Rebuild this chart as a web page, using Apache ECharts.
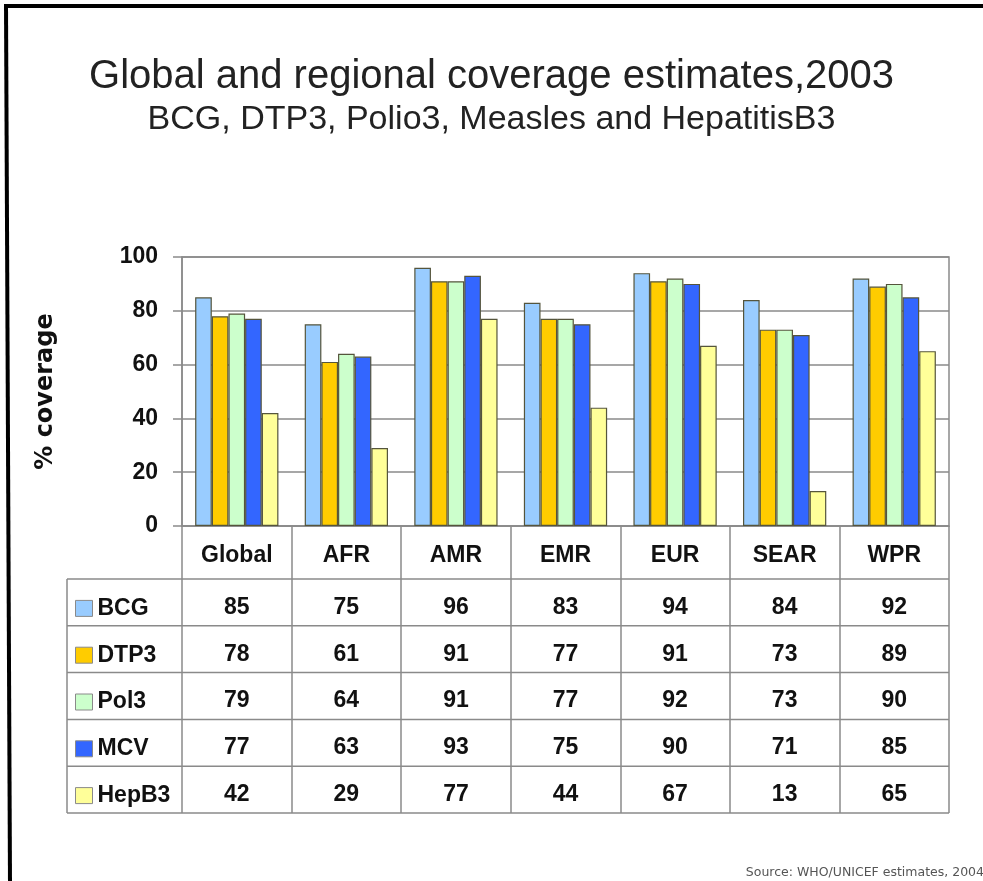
<!DOCTYPE html>
<html>
<head>
<meta charset="utf-8">
<script src="https://cdn.jsdelivr.net/npm/echarts@6/dist/echarts.min.js"></script>
<style>
  html, body { margin: 0; padding: 0; background: #ffffff; }
  #chart { width: 983px; height: 881px; }
</style>
</head>
<body>
<div id="chart"></div>
<script>
// Immunization coverage by WHO region, 2003 (%)
const regions = ['Global', 'AFR', 'AMR', 'EMR', 'EUR', 'SEAR', 'WPR'];
const vaccines = ['BCG', 'DTP3', 'Pol3', 'MCV', 'HepB3'];
const bcg   = [85, 75, 96, 83, 94, 84, 92];
const dtp3  = [78, 61, 91, 77, 91, 73, 89];
const pol3  = [79, 64, 91, 77, 92, 73, 90];
const mcv   = [77, 63, 93, 75, 90, 71, 85];
const hepb3 = [42, 29, 77, 44, 67, 13, 65];
const yMin = 0, yMax = 100, yStep = 20;

const seriesValues = [bcg, dtp3, pol3, mcv, hepb3];
const colors = ['#99ccff', '#ffcc00', '#ccffcc', '#3366ff', '#ffff99'];

const FONT = 'Liberation Sans, Arial, sans-serif';
const LINE = '#8a8a8a';

// layout of the plot and the data table under it
const gridTop = 257, gridBottomY = 526, gridLeft = 182, gridRightX = 949;
const W = 983, H = 881;
const headerH = 53;      // category header row
const rowH = 46.8;       // one row per vaccine
const rowTextShift = 5;  // cell text sits a little below the row middle
const tableLeft = 67;
const tableBottom = gridBottomY + headerH + rowH * vaccines.length;
const legendItemH = 23;  // height of one legend entry (text box)

const chart = echarts.init(document.getElementById('chart'), null, { renderer: 'canvas' });

const option = {
  backgroundColor: '#ffffff',
  animation: false,
  title: {
    text: 'Global and regional coverage estimates,2003',
    subtext: 'BCG, DTP3, Polio3, Measles and HepatitisB3',
    left: 'center',
    top: 57,
    padding: 0,
    itemGap: 6,
    textStyle: { fontFamily: FONT, fontSize: 40, lineHeight: 40, fontWeight: 'normal', color: '#222' },
    subtextStyle: { fontFamily: FONT, fontSize: 34, lineHeight: 34, color: '#222' }
  },
  legend: {
    data: vaccines,
    orient: 'vertical',
    left: 75,
    top: gridBottomY + headerH + rowH / 2 - legendItemH / 2 + 6,
    itemWidth: 17,
    itemHeight: 16,
    itemGap: rowH - legendItemH,
    icon: 'rect',
    selectedMode: false,
    padding: 0,
    itemStyle: { borderColor: '#8a8a8a', borderWidth: 1 },
    textStyle: { fontFamily: FONT, fontSize: 23, lineHeight: legendItemH, height: legendItemH, fontWeight: 'bold', color: '#111' }
  },
  grid: {
    left: gridLeft,
    right: W - gridRightX,
    top: gridTop,
    bottom: H - gridBottomY,
    show: true,
    borderColor: LINE,
    borderWidth: 1.5,
    backgroundColor: 'transparent'
  },
  xAxis: {
    type: 'category',
    data: regions,
    axisLine: { show: true, lineStyle: { color: LINE, width: 1.5 } },
    axisTick: { show: true, alignWithLabel: false, length: headerH + rowH * vaccines.length, lineStyle: { color: LINE, width: 1.5 } },
    axisLabel: { fontFamily: FONT, fontSize: 23, fontWeight: 'bold', color: '#111', margin: 30, verticalAlign: 'middle' },
    splitLine: { show: false }
  },
  yAxis: {
    type: 'value',
    min: yMin,
    max: yMax,
    interval: yStep,
    name: '% coverage',
    nameLocation: 'middle',
    nameGap: 124,
    nameRotate: 90,
    nameTextStyle: { fontFamily: 'DejaVu Sans, sans-serif', fontSize: 24, fontWeight: 'bold', color: '#111' },
    axisLine: { show: true, lineStyle: { color: LINE, width: 1.5 } },
    axisTick: { show: true, length: 9, lineStyle: { color: LINE, width: 1.5 } },
    axisLabel: { fontFamily: FONT, fontSize: 23, fontWeight: 'bold', color: '#111', margin: 24 },
    splitLine: { show: true, lineStyle: { color: LINE, width: 1.5 } }
  },
  series: vaccines.map((name, i) => ({
    name: name,
    type: 'bar',
    data: seriesValues[i],
    barGap: '0%',
    barCategoryGap: '24%',
    itemStyle: { color: colors[i], borderColor: '#55553c', borderWidth: 1.2 }
  }))
};

chart.setOption(option);

// Frame and data table drawn on top of the chart
function buildGraphics() {
  const els = [];
  // black frame along the top and left edge
  els.push({ type: 'line', shape: { x1: 4, y1: 6, x2: W, y2: 6 }, style: { stroke: '#000', lineWidth: 4 } });
  els.push({ type: 'line', shape: { x1: 6, y1: 4, x2: 10, y2: H }, style: { stroke: '#000', lineWidth: 4 } });

  // table horizontal rules
  for (let r = 0; r <= vaccines.length; r++) {
    const y = gridBottomY + headerH + rowH * r;
    els.push({ type: 'line', shape: { x1: tableLeft, y1: y, x2: gridRightX, y2: y }, style: { stroke: LINE, lineWidth: 1.5 } });
  }
  // table left edge
  els.push({ type: 'line', shape: { x1: tableLeft, y1: gridBottomY + headerH, x2: tableLeft, y2: tableBottom }, style: { stroke: LINE, lineWidth: 1.5 } });

  // cell values
  vaccines.forEach((v, r) => {
    const y = gridBottomY + headerH + rowH * r + rowH / 2 + rowTextShift;
    regions.forEach((reg, c) => {
      const x = chart.convertToPixel({ xAxisIndex: 0 }, reg);
      els.push({
        type: 'text', x: x, y: y,
        style: { text: String(seriesValues[r][c]), fontFamily: FONT, fontSize: 23, fontWeight: 'bold', fill: '#111', align: 'center', verticalAlign: 'middle' }
      });
    });
  });

  // source note
  els.push({
    type: 'text', x: W + 1, y: 873,
    style: { text: 'Source: WHO/UNICEF estimates, 2004', fontFamily: 'DejaVu Sans, sans-serif', fontSize: 12.5, fill: '#555', align: 'right', verticalAlign: 'middle' }
  });
  return els;
}

chart.setOption({ graphic: { elements: buildGraphics() } });
</script>
</body>
</html>
